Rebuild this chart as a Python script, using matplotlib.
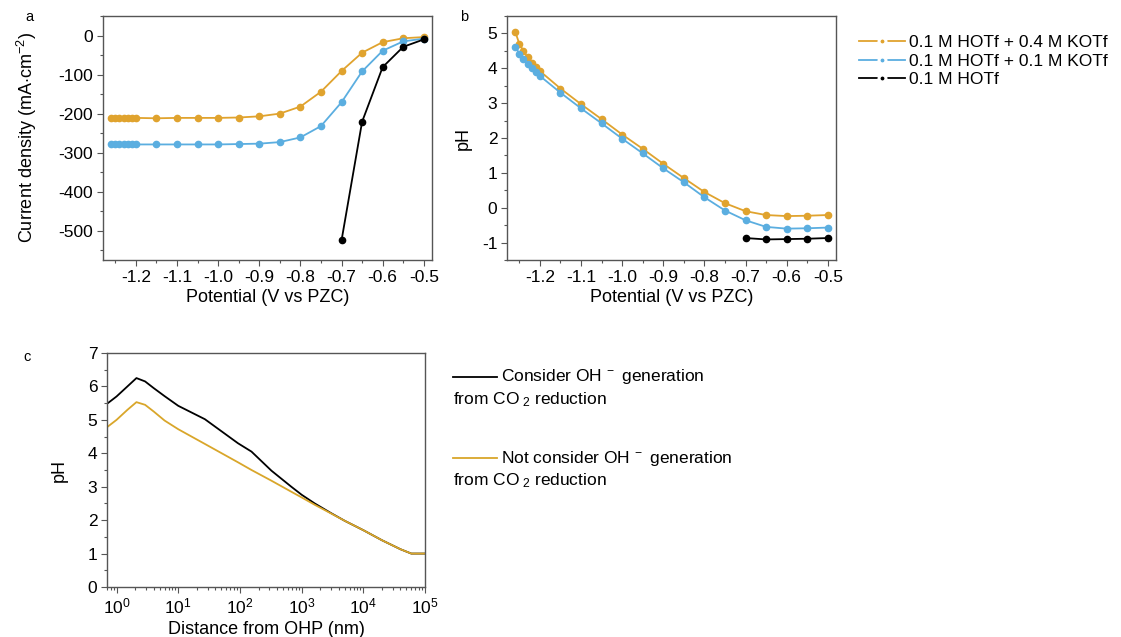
import numpy as np
import matplotlib.pyplot as plt
from matplotlib.lines import Line2D
from matplotlib.ticker import MultipleLocator, LogLocator, NullFormatter

plt.rcParams['font.family'] = ['Liberation Sans', 'DejaVu Sans']
plt.rcParams['mathtext.fontset'] = 'custom'
plt.rcParams['mathtext.rm'] = 'Liberation Sans'
plt.rcParams['mathtext.it'] = 'Liberation Sans'
plt.rcParams['axes.unicode_minus'] = False

#%% data
pot = [-1.26, -1.25, -1.24, -1.23, -1.22, -1.21, -1.20, -1.15, -1.10, -1.05, -1.00,
       -0.95, -0.90, -0.85, -0.80, -0.75, -0.70, -0.65, -0.60, -0.55, -0.50]
pot_hotf = [-0.70, -0.65, -0.60, -0.55, -0.50]

j_04 = [-211, -211, -211, -211, -211, -211, -211, -212, -211, -211, -211,
        -210, -207, -200, -182, -144, -91, -44, -17, -7, -4]
j_01 = [-279, -279, -279, -279, -279, -279, -279, -279, -279, -279, -279,
        -278, -277, -273, -261, -232, -171, -92, -39, -15, -8]
j_hotf = [-525, -221, -81, -29, -10]

ph_04 = [5.05, 4.70, 4.50, 4.31, 4.16, 4.05, 3.92, 3.42, 2.97, 2.54, 2.10,
         1.69, 1.26, 0.85, 0.45, 0.13, -0.10, -0.21, -0.24, -0.23, -0.21]
ph_01 = [4.62, 4.42, 4.26, 4.11, 4.00, 3.90, 3.78, 3.30, 2.85, 2.42, 1.98,
         1.56, 1.13, 0.73, 0.30, -0.08, -0.36, -0.55, -0.60, -0.59, -0.57]
ph_hotf = [-0.87, -0.91, -0.90, -0.89, -0.87]

dist = [0.7, 1.0, 1.5, 2.1, 2.9, 4.0, 6.0, 10, 27, 93, 154, 324, 680, 1000,
        1630, 3000, 5000, 10000, 20000, 40000, 60000, 80000, 100000]
ph_co2 = [5.48, 5.7, 6.0, 6.25, 6.15, 5.95, 5.71, 5.42, 5.02, 4.30, 4.05, 3.48,
          3.0, 2.76, 2.5, 2.21, 1.98, 1.7, 1.4, 1.13, 1.0, 1.0, 1.0]
ph_noco2 = [4.78, 5.0, 5.3, 5.53, 5.45, 5.25, 4.98, 4.72, 4.28, 3.73, 3.5, 3.18,
            2.85, 2.68, 2.46, 2.2, 1.98, 1.7, 1.4, 1.13, 1.0, 1.0, 1.0]

lab_b = ['0.1 M HOTf + 0.4 M KOTf', '0.1 M HOTf + 0.1 M KOTf', '0.1 M HOTf']
lab_co2 = ['Consider OH$^{\\ -}$ generation', 'from CO$_{\\ 2}$ reduction']
lab_noco2 = ['Not consider OH$^{\\ -}$ generation', 'from CO$_{\\ 2}$ reduction']

c_orange = '#E0A32E'
c_blue = '#5BAEE0'
c_gold = '#D9A62A'
frame = '#555555'
tick_fs = 12.5
lab_fs = 13

fig = plt.figure(figsize=(11.21, 6.37), dpi=100)
W, H = 1121, 637

def px_axes(l, t, r, b):
    return fig.add_axes([l / W, 1 - b / H, (r - l) / W, (b - t) / H])

def style(ax):
    for s in ax.spines.values():
        s.set_color(frame)
        s.set_linewidth(1.0)
    ax.tick_params(direction='out', length=4, width=0.8, labelsize=tick_fs, color=frame, pad=3)
    ax.tick_params(which='minor', direction='out', length=2.5, width=0.8, color=frame)

#%% panel a
ax1 = px_axes(103, 16, 432, 260)
ax1.plot(pot, j_04, '-o', color=c_orange, ms=4.5, lw=1.3)
ax1.plot(pot, j_01, '-o', color=c_blue, ms=4.5, lw=1.3)
ax1.plot(pot_hotf, j_hotf, '-o', color='black', ms=4.5, lw=1.3)
ax1.set_xlim(-1.28, -0.48)
ax1.set_ylim(-575, 50)
ax1.xaxis.set_major_locator(MultipleLocator(0.1))
ax1.xaxis.set_minor_locator(MultipleLocator(0.05))
ax1.yaxis.set_major_locator(MultipleLocator(100))
ax1.yaxis.set_minor_locator(MultipleLocator(50))
ax1.xaxis.set_major_formatter(lambda v, p: f'{v:.1f}')
ax1.set_xlabel('Potential (V vs PZC)', fontsize=lab_fs, labelpad=3)
ax1.set_ylabel('Current density (mA$\\cdot$cm$^{-2}$)', fontsize=lab_fs, labelpad=14)
style(ax1)
fig.text(29 / W, 1 - 17 / H, 'a', fontsize=10.5, ha='center', va='center')

#%% panel b
ax2 = px_axes(507, 16, 836, 260)
ax2.plot(pot, ph_04, '-o', color=c_orange, ms=4.5, lw=1.3)
ax2.plot(pot, ph_01, '-o', color=c_blue, ms=4.5, lw=1.3)
ax2.plot(pot_hotf, ph_hotf, '-o', color='black', ms=4.5, lw=1.3)
ax2.set_xlim(-1.28, -0.48)
ax2.set_ylim(-1.5, 5.5)
ax2.xaxis.set_major_locator(MultipleLocator(0.1))
ax2.xaxis.set_minor_locator(MultipleLocator(0.05))
ax2.yaxis.set_major_locator(MultipleLocator(1))
ax2.yaxis.set_minor_locator(MultipleLocator(0.5))
ax2.xaxis.set_major_formatter(lambda v, p: f'{v:.1f}')
ax2.set_xlabel('Potential (V vs PZC)', fontsize=lab_fs, labelpad=3)
ax2.set_ylabel('pH', fontsize=lab_fs, labelpad=7)
style(ax2)
fig.text(464 / W, 1 - 17 / H, 'b', fontsize=10.5, ha='center', va='center')

# Origin-like legend handles: line, gap, dot, gap, line
handles = [Line2D([], [], color=c, lw=1.3, marker='o', ms=5, mec='white', mew=2.2, mfc=c)
           for c in (c_orange, c_blue, 'black')]
ax2.legend(handles, lab_b, loc='upper left', bbox_to_anchor=(859 / W, 1 - 35 / H),
           bbox_transform=fig.transFigure, frameon=False, fontsize=12.5,
           handlelength=2.65, handletextpad=0.25, labelspacing=0.2,
           borderaxespad=0, borderpad=0)

#%% panel c
ax3 = px_axes(107, 353, 425, 587)
ax3.plot(dist, ph_co2, color='black', lw=1.3)
ax3.plot(dist, ph_noco2, color=c_gold, lw=1.3)
ax3.set_xscale('log')
ax3.set_xlim(0.7, 1e5)
ax3.set_ylim(0, 7)
ax3.xaxis.set_major_locator(LogLocator(base=10, numticks=10))
ax3.xaxis.set_minor_locator(LogLocator(base=10, subs=np.arange(2, 10), numticks=20))
ax3.xaxis.set_minor_formatter(NullFormatter())
ax3.yaxis.set_major_locator(MultipleLocator(1))
ax3.yaxis.set_minor_locator(MultipleLocator(0.5))
ax3.set_xlabel('Distance from OHP (nm)', fontsize=lab_fs, labelpad=3)
ax3.set_ylabel('pH', fontsize=lab_fs, labelpad=14)
style(ax3)
fig.text(27 / W, 1 - 357 / H, 'c', fontsize=10.5, ha='center', va='center')

# legend of panel c, text wraps under the handle
for y0, col, lab in [(377, 'black', lab_co2), (458, c_gold, lab_noco2)]:
    fig.add_artist(Line2D([453 / W, 497 / W], [1 - y0 / H, 1 - y0 / H], color=col, lw=1.3))
    fig.text(501 / W, 1 - y0 / H, lab[0], fontsize=12.5, ha='left', va='center')
    fig.text(453 / W, 1 - (y0 + 23) / H, lab[1], fontsize=12.5, ha='left', va='center')

fig.savefig('out.png', dpi=100)
